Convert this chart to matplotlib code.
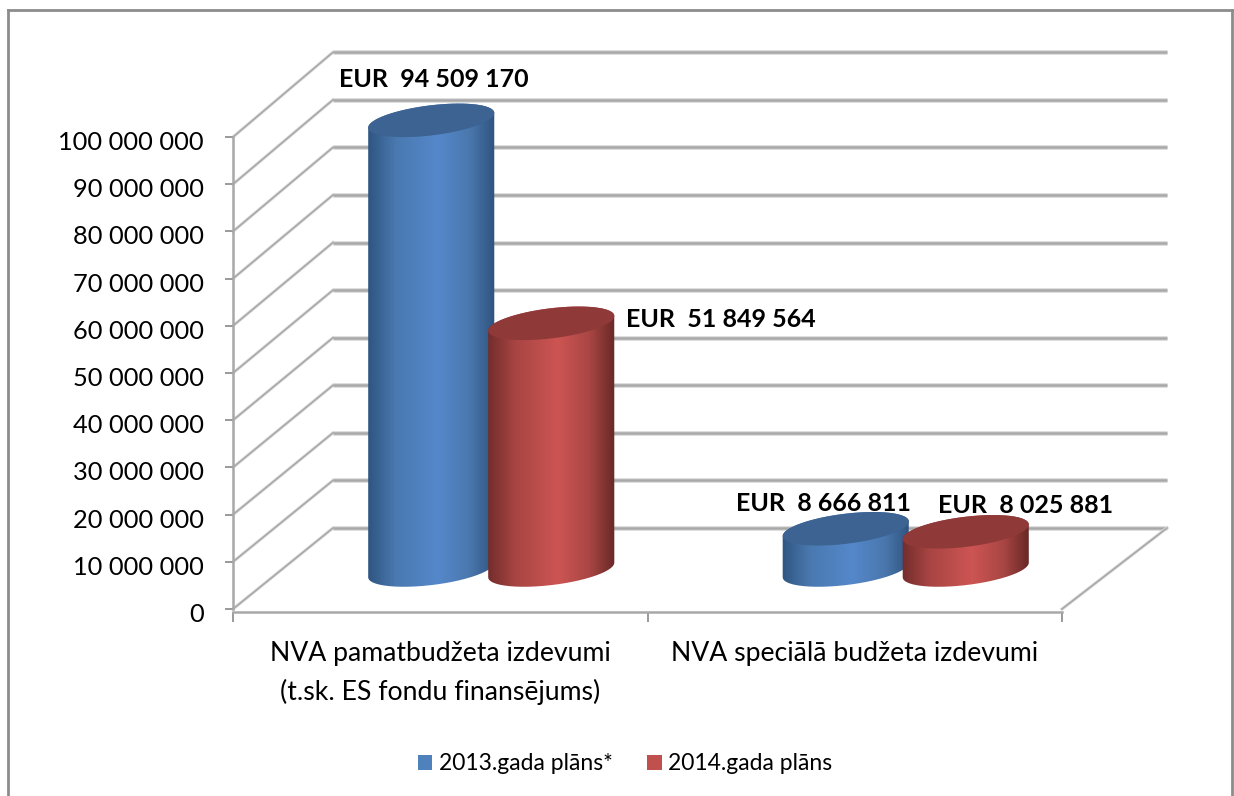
"""Recreate the NVA budget chart (2013 vs 2014 plan) as fake-3D cylinders."""

from __future__ import annotations

import matplotlib

matplotlib.use("Agg")

import matplotlib.pyplot as plt
import numpy as np
from matplotlib.colors import LinearSegmentedColormap
from matplotlib.lines import Line2D
from matplotlib.patches import Patch, PathPatch, Polygon
from matplotlib.path import Path
from matplotlib.transforms import ScaledTranslation

CATEGORIES = [
    "NVA pamatbudžeta izdevumi\n(t.sk. ES fondu finansējums)",
    "NVA speciālā budžeta izdevumi",
]
SERIES_NAMES = ["2013.gada plāns*", "2014.gada plāns"]
PLAN_2013 = [94509170, 8666811]
PLAN_2014 = [51849564, 8025881]
Y_TICKS = [0, 10000000, 20000000, 30000000, 40000000, 50000000, 60000000, 70000000, 80000000, 90000000, 100000000]

WIDTH, HEIGHT = 1234, 796
PLOT_LEFT, PLOT_RIGHT = 233, 1062
PLOT_TOP, PLOT_BOTTOM = 137, 609
PX_PER_CATEGORY = (PLOT_RIGHT - PLOT_LEFT) / 2
PX_PER_UNIT = (PLOT_BOTTOM - PLOT_TOP) / 100000000

DEPTH_X = 100 / PX_PER_CATEGORY
DEPTH_Y = 81 / PX_PER_UNIT
BACK_RIGHT = (1167 - PLOT_LEFT) / PX_PER_CATEGORY
BACK_SCALE = 1.008  # back wall is drawn a little taller than the front axis

BAR_SHIFT = 60 / PX_PER_CATEGORY
BAR_BASE = 39 / PX_PER_UNIT
BAR_DEPTH_X = 51 / PX_PER_CATEGORY
ELLIPSE_A, ELLIPSE_B, ELLIPSE_TILT = 63.5, 15.0, np.radians(7)

BLUE = {"legend": "#4f81bd", "top": "#3c6391", "side": ["#2f5581", "#4a79b0", "#5588cb", "#4a78ae", "#2f5380"]}
RED = {"legend": "#c0504d", "top": "#8f3a38", "side": ["#732d2c", "#a84543", "#cd5553", "#a94644", "#682826"]}

# label centre relative to the cylinder's top centre, in pixels (x right, y up)
LABEL_OFFSETS = [[(3, 41), (170, 4)], [(-22, 25), (60, 26)]]

GRID_DARK = "#a8a8a8"
GRID_LIGHT = "#dedede"
FONT = "Lato"


def ellipse_points(cx: float, cy: float, start: float, stop: float) -> np.ndarray:
    """Tilted ellipse arc around a data point; the shape is defined in pixels."""
    t = np.linspace(start, stop, 80)
    dx = ELLIPSE_A * np.cos(t) * np.cos(ELLIPSE_TILT) - ELLIPSE_B * np.sin(t) * np.sin(ELLIPSE_TILT)
    dy = ELLIPSE_A * np.cos(t) * np.sin(ELLIPSE_TILT) + ELLIPSE_B * np.sin(t) * np.cos(ELLIPSE_TILT)
    return np.column_stack([cx + dx / PX_PER_CATEGORY, cy + dy / PX_PER_UNIT])


def draw_cylinder(fig, ax, x: float, value: float, colors: dict, zorder: int) -> float:
    top = BAR_BASE + value * BACK_SCALE
    right = np.arctan2(-ELLIPSE_B * np.sin(ELLIPSE_TILT), ELLIPSE_A * np.cos(ELLIPSE_TILT))
    lower = ellipse_points(x, BAR_BASE, right + np.pi, right + 2 * np.pi)
    upper = ellipse_points(x, top, right, right + np.pi)
    outline = np.vstack([lower, upper, lower[:1]])
    clip = PathPatch(Path(outline), facecolor="none", edgecolor="none", transform=ax.transData)
    ax.add_patch(clip)
    clip.set_clip_on(False)

    half = ELLIPSE_A / PX_PER_CATEGORY
    cmap = LinearSegmentedColormap.from_list(
        "side", list(zip([0.0, 0.22, 0.55, 0.8, 1.0], colors["side"]))
    )
    image = ax.imshow(
        np.linspace(0, 1, 256).reshape(1, -1),
        cmap=cmap,
        aspect="auto",
        extent=(x - half, x + half, BAR_BASE - 30 / PX_PER_UNIT, top + 30 / PX_PER_UNIT),
        interpolation="bilinear",
        zorder=zorder,
    )
    image.set_clip_box(fig.bbox)
    image.set_clip_path(clip)

    cap = ellipse_points(x, top, 0, 2 * np.pi)
    ax.add_patch(Polygon(cap, closed=True, facecolor=colors["top"], edgecolor="none", zorder=zorder + 0.5, clip_on=False))
    return top


def draw_walls(ax) -> None:
    for tick in Y_TICKS:
        back_y = DEPTH_Y + tick * BACK_SCALE
        for width, color in ((3.6, GRID_LIGHT), (1.8, GRID_DARK)):
            ax.plot([DEPTH_X, BACK_RIGHT], [back_y, back_y], color=color, lw=width, clip_on=False, zorder=1, solid_capstyle="butt")
            ax.plot([0, DEPTH_X], [tick, back_y], color=color, lw=width * 0.65, clip_on=False, zorder=1)
    for width, color in ((2.4, GRID_LIGHT), (1.2, GRID_DARK)):
        ax.plot([2, BACK_RIGHT], [0, DEPTH_Y], color=color, lw=width, clip_on=False, zorder=1)


def main() -> None:
    fig = plt.figure(figsize=(WIDTH / 100, HEIGHT / 100), dpi=100, facecolor="white")
    ax = fig.add_axes(
        [
            PLOT_LEFT / WIDTH,
            1 - PLOT_BOTTOM / HEIGHT,
            (PLOT_RIGHT - PLOT_LEFT) / WIDTH,
            (PLOT_BOTTOM - PLOT_TOP) / HEIGHT,
        ]
    )
    ax.patch.set_visible(False)

    # has to come before the ticks: moving a spine resets its axis
    for name in ("top", "right"):
        ax.spines[name].set_visible(False)
    for name in ("left", "bottom"):
        ax.spines[name].set_color(GRID_DARK)
        ax.spines[name].set_linewidth(1.8)
    ax.spines["bottom"].set_position(("outward", 1.8))

    draw_walls(ax)

    for index, (low, high) in enumerate(zip(PLAN_2013, PLAN_2014)):
        center = index + 0.5 + BAR_DEPTH_X
        for side, value, colors, offset in zip((-1, 1), (low, high), (BLUE, RED), LABEL_OFFSETS[index]):
            x = center + side * BAR_SHIFT
            top = draw_cylinder(fig, ax, x, value, colors, zorder=3 + side)
            ax.annotate(
                f"EUR  {value:,}".replace(",", " "),
                xy=(x, top),
                xytext=(offset[0] * 0.72, offset[1] * 0.72),
                textcoords="offset points",
                ha="center",
                va="center",
                fontsize=18,
                fontweight="bold",
                family=FONT,
                color="black",
                annotation_clip=False,
                zorder=8,
            )

    ax.set_xlim(0, 2)
    ax.set_ylim(0, 100000000)

    ax.set_yticks(Y_TICKS, [f"{tick:,}".replace(",", " ") for tick in Y_TICKS], family=FONT, fontsize=18.3)
    ax.tick_params(axis="y", length=6, width=1.4, color="#9a9a9a", pad=15)
    down = ScaledTranslation(0, -2.5 / 72, fig.dpi_scale_trans)
    for label in ax.get_yticklabels():
        label.set_transform(label.get_transform() + down)

    ax.set_xticks([0, 1, 2], ["", "", ""])
    ax.tick_params(axis="x", which="major", length=7, width=1.4, color="#9a9a9a")
    ax.set_xticks([0.5, 1.5], CATEGORIES, minor=True, family=FONT, fontsize=19.2, linespacing=1.65)
    ax.tick_params(axis="x", which="minor", length=0, pad=21)

    handles = [Patch(facecolor=BLUE["legend"]), Patch(facecolor=RED["legend"])]
    fig.legend(
        handles,
        SERIES_NAMES,
        loc="center",
        bbox_to_anchor=(625 / WIDTH, 1 - 764 / HEIGHT),
        ncol=2,
        frameon=False,
        prop={"family": FONT, "size": 16.5},
        handlelength=0.65,
        handleheight=0.65,
        handletextpad=0.28,
        columnspacing=1.5,
    )

    # outer chart frame; the source picture cuts off its bottom edge
    for xs, ys in (((8, 8), (796, 10)), ((8, 1232), (10, 10)), ((1232, 1232), (10, 796))):
        fig.add_artist(
            Line2D(
                [x / WIDTH for x in xs],
                [1 - y / HEIGHT for y in ys],
                color="#8c8c8c",
                lw=2,
                transform=fig.transFigure,
            )
        )

    fig.savefig("out.png", dpi=100)
    plt.close(fig)


if __name__ == "__main__":
    main()
